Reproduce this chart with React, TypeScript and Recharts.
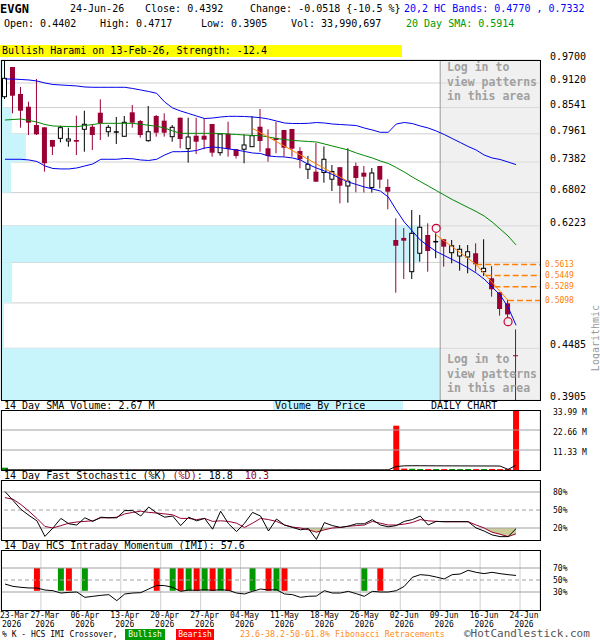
import React from "react";
import {
  ComposedChart,
  Bar,
  Line,
  Area,
  XAxis,
  YAxis,
  CartesianGrid,
  ReferenceArea,
  ReferenceLine,
  Cell,
} from "recharts";

const MONO = '"DejaVu Sans Mono", monospace';
const CANDLE_RED = "#990033";
const BAND_BLUE = "#0000ee";
const SMA_GREEN = "#008800";
const ORANGE = "#ff8000";
const VBP_BLUE = "#c8f5fc";
const GRID = "#d0d0d0";
const LEVEL = "#a0a0a0";

// daily candles, 23-Mar-2026 .. 24-Jun-2026 (65 sessions)
const opens = [
  0.8793, 0.952, 0.8857, 0.856, 0.8151, 0.8101, 0.7831, 0.7866, 0.781, 0.7831,
  0.8058, 0.8114, 0.8424, 0.8006, 0.8, 0.7909, 0.8433, 0.8239, 0.7816, 0.835,
  0.8246, 0.79, 0.8312, 0.7651, 0.7921, 0.7921, 0.8173, 0.7569, 0.7964, 0.7639,
  0.7639, 0.7692, 0.8114, 0.7659, 0.7873, 0.8043, 0.8065, 0.7604, 0.7241, 0.7194,
  0.7179, 0.705, 0.7281, 0.6924, 0.7305, 0.7175, 0.6897, 0.7305, 0.6906, 0.5992,
  0.6025, 0.5505, 0.5783, 0.6073, 0.5965, 0.6004, 0.5792, 0.5741, 0.5726, 0.5783,
  0.5505, 0.5409, 0.521, 0.5058, 0.4402,
];
const highs = [
  0.97, 0.952, 0.9024, 0.8675, 0.922, 0.8101, 0.7831, 0.8136, 0.8093, 0.8357,
  0.8469, 0.8167, 0.8732, 0.8151, 0.8328, 0.835, 0.8599, 0.8261, 0.8576, 0.8372,
  0.841, 0.8151, 0.8312, 0.8312, 0.8312, 0.8299, 0.8173, 0.7957, 0.8223, 0.7639,
  0.7951, 0.835, 0.8508, 0.8058, 0.8223, 0.8043, 0.8065, 0.768, 0.7503, 0.7768,
  0.7696, 0.7324, 0.7281, 0.7659, 0.737, 0.7305, 0.7266, 0.7305, 0.705, 0.6351,
  0.6188, 0.6493, 0.6407, 0.6266, 0.6101, 0.6004, 0.5992, 0.5912, 0.5912, 0.5939,
  0.6004, 0.559, 0.521, 0.5103, 0.4717,
];
const lows = [
  0.8739, 0.841, 0.8093, 0.7936, 0.7936, 0.7194, 0.7523, 0.7783, 0.7692, 0.7523,
  0.7589, 0.7624, 0.7831, 0.79, 0.7748, 0.79, 0.8093, 0.7879, 0.7795, 0.79,
  0.79, 0.7795, 0.7659, 0.737, 0.7543, 0.7639, 0.7489, 0.7509, 0.7489, 0.7453,
  0.7358, 0.7692, 0.7589, 0.7389, 0.7557, 0.7489, 0.7489, 0.726, 0.7055, 0.7004,
  0.6985, 0.6832, 0.661, 0.6621, 0.6808, 0.6805, 0.6801, 0.6881, 0.6505, 0.5204,
  0.5398, 0.5398, 0.5654, 0.5505, 0.5706, 0.5579, 0.563, 0.552, 0.5481, 0.5505,
  0.5442, 0.5149, 0.4894, 0.4873, 0.3905,
];
const closes = [
  0.9236, 0.8816, 0.8469, 0.8202, 0.7951, 0.7358, 0.7692, 0.8093, 0.7852, 0.7795,
  0.8167, 0.7936, 0.8188, 0.8101, 0.8, 0.821, 0.8202, 0.7936, 0.8006, 0.7985,
  0.7985, 0.8101, 0.7852, 0.7894, 0.7795, 0.7837, 0.7569, 0.7957, 0.7645, 0.7503,
  0.7727, 0.7921, 0.781, 0.7503, 0.7831, 0.7671, 0.7651, 0.7437, 0.7338, 0.7004,
  0.7437, 0.7198, 0.6929, 0.7012, 0.7074, 0.7099, 0.7169, 0.7042, 0.6819, 0.5901,
  0.5981, 0.6101, 0.62, 0.5818, 0.5965, 0.5886, 0.5901, 0.5845, 0.5807, 0.5615,
  0.5555, 0.5252, 0.4982, 0.491, 0.4392,
];

// 20,2 bands and 20 day SMA
const upperBand = [
  0.9219, 0.9219, 0.9207, 0.9195, 0.917, 0.9122, 0.9085, 0.9073, 0.9061, 0.9049,
  0.9024, 0.9017, 0.9017, 0.9017, 0.9017, 0.9017, 0.8988, 0.8952, 0.8916, 0.8873,
  0.8668, 0.8531, 0.8462, 0.8406, 0.835, 0.8294, 0.8305, 0.8328, 0.8343, 0.8343,
  0.8339, 0.8328, 0.8312, 0.8283, 0.8239, 0.8195, 0.8184, 0.8184, 0.8188, 0.8206,
  0.8195, 0.8173, 0.8162, 0.8151, 0.814, 0.8086, 0.8043, 0.7994, 0.7994, 0.8173,
  0.8206, 0.8184, 0.813, 0.8086, 0.8022, 0.7947, 0.7862, 0.7779, 0.7696, 0.7624,
  0.7523, 0.7463, 0.7433, 0.7383, 0.7332,
];
const lowerBand = [
  0.7437, 0.7437, 0.7437, 0.7423, 0.7393, 0.7305, 0.7256, 0.7247, 0.7247, 0.7266,
  0.7305, 0.7344, 0.7437, 0.7437, 0.7437, 0.7453, 0.7447, 0.7423, 0.7413, 0.7437,
  0.7523, 0.7589, 0.7589, 0.7593, 0.7614, 0.7665, 0.7686, 0.7671, 0.7645, 0.7624,
  0.7593, 0.7563, 0.7553, 0.7503, 0.7489, 0.7483, 0.7463, 0.7423, 0.7334, 0.7266,
  0.7208, 0.7141, 0.7064, 0.6998, 0.6952, 0.6906, 0.6869, 0.6832, 0.6723, 0.6493,
  0.6288, 0.6139, 0.5992, 0.5897, 0.5811, 0.5749, 0.5688, 0.5627, 0.556, 0.5486,
  0.5398, 0.5284, 0.5172, 0.5008, 0.477,
];
const sma20 = [
  0.8261, 0.8272, 0.8283, 0.825, 0.8217, 0.8162, 0.813, 0.8123, 0.8119, 0.8114,
  0.814, 0.8162, 0.8188, 0.8188, 0.8188, 0.8188, 0.8188, 0.8167, 0.8145, 0.8123,
  0.8086, 0.8022, 0.7972, 0.7972, 0.7972, 0.7972, 0.7972, 0.7968, 0.7957, 0.7947,
  0.7936, 0.7926, 0.7921, 0.7894, 0.7862, 0.7841, 0.7821, 0.781, 0.78, 0.7789,
  0.7748, 0.7706, 0.7665, 0.7624, 0.7563, 0.7512, 0.7463, 0.7403, 0.7354, 0.7275,
  0.7188, 0.7093, 0.7008, 0.6924, 0.6841, 0.6759, 0.6678, 0.6607, 0.6536, 0.6467,
  0.639, 0.6288, 0.6172, 0.6057, 0.5914,
];

// volume in millions
const volumes = [
  1.3, 0.05, 0.06, 0.05, 0.04, 0.07, 0.05, 0.06, 0.05, 0.04,
  0.05, 0.06, 0.05, 0.05, 0.04, 0.06, 0.05, 0.05, 0.07, 0.05,
  0.04, 0.05, 0.06, 0.05, 0.05, 0.04, 0.06, 0.05, 0.05, 0.06,
  0.05, 0.04, 0.05, 0.06, 0.05, 0.05, 0.04, 0.05, 0.06, 0.05,
  0.05, 0.04, 0.05, 0.06, 0.05, 0.05, 0.04, 0.05, 0.06, 25.1,
  0.8, 0.7, 0.55, 0.5, 0.55, 0.5, 0.55, 0.5, 0.55, 0.5,
  0.55, 0.6, 0.5, 0.55, 33.99,
];
const volumeSma = [
  0.1, 0.1, 0.1, 0.1, 0.1, 0.1, 0.1, 0.1, 0.1, 0.1,
  0.1, 0.1, 0.1, 0.1, 0.1, 0.1, 0.1, 0.1, 0.1, 0.1,
  0.1, 0.1, 0.1, 0.1, 0.1, 0.1, 0.1, 0.1, 0.1, 0.1,
  0.1, 0.1, 0.1, 0.1, 0.1, 0.1, 0.1, 0.1, 0.1, 0.1,
  0.1, 0.1, 0.1, 0.1, 0.1, 0.1, 0.1, 0.1, 0.1, 2.0,
  2.35, 2.4, 2.4, 2.38, 2.36, 2.35, 2.33, 2.32, 2.3, 2.3,
  2.28, 2.27, 2.25, 0.35, 2.67,
];

// 14 day fast stochastic
const stochK = [
  80.8, 66, 51, 41, 32, 6, 20, 36, 27, 25,
  37, 31, 38, 37, 37, 49, 49, 40, 55, 45,
  38, 40, 24, 38, 32, 36, 18, 48, 27, 14,
  28, 46, 40, 15, 35, 25, 21, 17, 19, 1,
  29, 24, 21, 23, 27, 27, 34, 25, 22, 24,
  31, 34, 40, 25, 31, 30.5, 30.5, 30.5, 30.5, 20,
  15, 8.5, 5.6, 5.6, 18.8,
];
const stochD = [
  70.6, 68, 59, 48, 36, 22.6, 20, 24, 28, 30,
  31, 32, 37, 37, 38, 43.5, 46, 48, 46, 45,
  43.5, 42, 36, 36, 34, 36, 31, 32, 31, 28,
  21, 28, 36, 34, 31, 25, 21.5, 20, 17, 13,
  17, 20, 21, 23, 24, 25, 31, 28, 25, 25,
  26.5, 29, 34, 32, 31, 30.5, 30.5, 30.5, 30.5, 25,
  20, 13, 9.6, 5.6, 10.3,
];

// 14 day HCS intraday momentum
const imi = [
  43.3, 39.4, 37.8, 36.7, 36.7, 33.3, 32.2, 28.3, 29.4, 30,
  21.1, 22.8, 24.4, 25.6, 15.6, 26.7, 28.3, 28.9, 35, 41.1,
  40.6, 37.8, 31.1, 33.3, 32.8, 33.9, 32.8, 33.9, 32.8, 28.3,
  26.7, 31.1, 35, 33.3, 33.9, 26.7, 25.6, 21.1, 22.8, 23.3,
  32.2, 28.3, 28.3, 31.1, 27.2, 22.8, 31.1, 30, 30, 32.2,
  39.4, 54.4, 58.9, 57.8, 55, 51.7, 58.9, 60, 66.1, 62.8,
  60.6, 62.8, 60.6, 58.9, 57.6,
];
const bullishCross = [7, 10, 21, 23, 25, 27, 31, 34, 45];
const bearishCross = [4, 8, 19, 22, 24, 26, 28, 33, 35, 47];
const CROSS_LOW = 32;
const CROSS_HIGH = 70;

// axis
const priceTicks = [0.97, 0.912, 0.8541, 0.7961, 0.7382, 0.6802, 0.6223, 0.5644, 0.5064, 0.4485, 0.3905];
const unlabeledPrices = [0.5644, 0.5064];
const tickIdx = [-0.5, 4.5, 9.5, 14.5, 19.5, 24.5, 29.5, 34.5, 39.5, 44.5, 49.5, 54.5, 59.5, 64.5];
const dateLabels = [
  "23-Mar", "27-Mar", "06-Apr", "13-Apr", "20-Apr", "27-Apr", "04-May",
  "11-May", "18-May", "26-May", "02-Jun", "09-Jun", "16-Jun", "24-Jun",
];
const YEAR = "2026";

// volume by price (millions) for each band between priceTicks, top to bottom
const volumeByPrice = [0.15, 0.15, 0.8, 1.85, 0.74, 0, 31.1, 0.82, 0.22, 32.6];
const VBP_MAX = 40;

// fibonacci retracements and pattern markers
const fibLevels = [0.5613, 0.5449, 0.5289, 0.5098];
const fibStart = [59, 60.2, 61.3, 63];
const trendA = [{ i: 31, v: 0.8078 }, { i: 43, v: 0.7004 }];
const trendB = [{ i: 54, v: 0.6073 }, { i: 59, v: 0.5613 }, { i: 63, v: 0.5098 }];
const patternMarks = [{ i: 54, v: 0.6182 }, { i: 63, v: 0.4815 }];
const LOCKED_FROM = 54.5;
const X_MAX = 67;

const pick = (list: { i: number; v: number }[], i: number) => {
  const p = list.find((q) => q.i === i);
  return p ? p.v : null;
};

const rows = opens.map((open, i) => ({
  i,
  open,
  high: highs[i],
  low: lows[i],
  close: closes[i],
  hl: [lows[i], highs[i]],
  upper: upperBand[i],
  lower: lowerBand[i],
  sma: sma20[i],
  vol: volumes[i],
  volSma: volumeSma[i],
  k: stochK[i],
  d: stochD[i],
  dFill: [Math.min(stochD[i], 20), 20],
  imi: imi[i],
  cross: bullishCross.includes(i) || bearishCross.includes(i) ? [CROSS_LOW, CROSS_HIGH] : null,
  trendA: pick(trendA, i),
  trendB: pick(trendB, i),
  mark: pick(patternMarks, i),
}));

const Candle = (props: any) => {
  const { x, y, width, height, payload } = props;
  if (!payload || height == null) return <g />;
  const { open, close, high, low } = payload;
  const top = height >= 0 ? y : y + height;
  const h = Math.abs(height);
  const lh = Math.log(high);
  const span = lh - Math.log(low) || 1;
  const toY = (v: number) => top + (h * (lh - Math.log(v))) / span;
  const cx = x + width / 2;
  const bodyTop = toY(Math.max(open, close));
  const bodyBot = toY(Math.min(open, close));
  const down = close < open;
  const flat = close === open;
  const color = down ? CANDLE_RED : "#000";
  return (
    <g>
      <line x1={cx} x2={cx} y1={top} y2={top + h} stroke={color} strokeWidth={1} />
      {flat ? (
        <rect x={x} y={bodyTop - 0.75} width={width} height={1.5} fill="#000" />
      ) : (
        <rect
          x={down ? x : x + 0.5}
          y={bodyTop}
          width={down ? width : width - 1}
          height={Math.max(bodyBot - bodyTop, 1)}
          fill={down ? CANDLE_RED : "#fff"}
          stroke={down ? "none" : "#000"}
          strokeWidth={1}
        />
      )}
    </g>
  );
};

const PriceTick = (props: any) => {
  const { x, y, payload } = props;
  if (unlabeledPrices.includes(payload.value)) return <g />;
  return (
    <text x={x} y={y - 3} fontFamily={MONO} fontSize={10} fill="#000" dominantBaseline="middle" textAnchor="start">
      {payload.value.toFixed(4)}
    </text>
  );
};

const makeSmallTick = (fmt: (v: number) => string, dy: number) => (props: any) => {
  const { x, y, payload } = props;
  return (
    <text x={x} y={y + dy} fontFamily={MONO} fontSize={8} fill="#000" dominantBaseline="middle" textAnchor="start">
      {fmt(payload.value)}
    </text>
  );
};

const DateTick = (props: any) => {
  const { x, y, payload } = props;
  const k = tickIdx.indexOf(payload.value);
  if (k < 0) return <g />;
  const first = k === 0;
  const tx = first ? 0 : x + 4;
  const anchor = first ? "start" : "middle";
  return (
    <g>
      <text x={tx} y={y + 5} textAnchor={anchor} dominantBaseline="middle" fontFamily={MONO} fontSize={8} fill="#000">
        {dateLabels[k]}
      </text>
      <text x={first ? 2 : tx} y={y + 14} textAnchor={anchor} dominantBaseline="middle" fontFamily={MONO} fontSize={8} fill="#000">
        {YEAR}
      </text>
    </g>
  );
};

const MarkDot = (props: any) => {
  const { cx, cy, value, index } = props;
  if (value == null || cy == null || isNaN(cy)) return <g key={`m-${index}`} />;
  return <circle key={`m-${index}`} cx={cx} cy={cy} r={4} fill="none" stroke="#cc0033" strokeWidth={1.2} />;
};

const Txt = ({ x, y, size = 10, color = "#000", bold = false, children }: any) => (
  <div
    style={{
      position: "absolute",
      left: x,
      top: y - size * 0.6,
      fontFamily: MONO,
      fontSize: size,
      lineHeight: `${size * 1.2}px`,
      color,
      fontWeight: bold ? "bold" : "normal",
      whiteSpace: "pre",
    }}
  >
    {children}
  </div>
);

const Frame = ({ top, height }: { top: number; height: number }) => (
  <div
    style={{
      position: "absolute",
      left: 1,
      top,
      width: 540,
      height: height + 1,
      border: "1px solid #000",
      boxSizing: "border-box",
      pointerEvents: "none",
    }}
  />
);

const xAxisBase = {
  dataKey: "i",
  type: "number" as const,
  domain: [-0.5, X_MAX],
  ticks: tickIdx,
  allowDataOverflow: true,
  interval: 0 as const,
};

const LoginNote = ({ top }: { top: number }) => (
  <div
    style={{
      position: "absolute",
      left: 447,
      top,
      fontFamily: MONO,
      fontSize: 11.5,
      fontWeight: "bold",
      lineHeight: "14.7px",
      color: "#a0a0a0",
      whiteSpace: "pre",
    }}
  >
    {"Log in to\nview patterns\nin this area"}
  </div>
);

export default function App() {
  const priceRows = priceTicks.slice(0, -1).map((hi, k) => ({ hi, lo: priceTicks[k + 1], v: volumeByPrice[k] }));
  return (
    <div style={{ position: "absolute", left: 0, top: 0, width: 600, height: 640, background: "#fff", overflow: "hidden" }}>
      {/* header */}
      <Txt x={0} y={9} size={12} bold>EVGN</Txt>
      <Txt x={70} y={9}>24-Jun-26</Txt>
      <Txt x={145} y={9}>Close: 0.4392</Txt>
      <Txt x={250} y={9}>{"Change: -0.0518 {-10.5 %}"}</Txt>
      <Txt x={404} y={9} color="#0000ff">20,2 HC Bands: 0.4770 , 0.7332</Txt>
      <Txt x={4} y={24}>Open: 0.4402</Txt>
      <Txt x={100} y={24}>High: 0.4717</Txt>
      <Txt x={201} y={24}>Low: 0.3905</Txt>
      <Txt x={291} y={24}>Vol: 33,990,697</Txt>
      <Txt x={406} y={24} color="#009900">20 Day SMA: 0.5914</Txt>
      <div style={{ position: "absolute", left: 0, top: 45, width: 402, height: 12, background: "#ffff00" }} />
      <Txt x={2} y={51}>Bullish Harami on 13-Feb-26, Strength: -12.4</Txt>

      {/* price panel */}
      <div style={{ position: "absolute", left: 0, top: 50 }}>
        <ComposedChart width={600} height={360} data={rows} margin={{ top: 10, right: 0, bottom: 10, left: 1 }}>
          <CartesianGrid stroke={GRID} />
          <XAxis {...xAxisBase} height={0} tick={false} axisLine={false} tickLine={false} />
          <XAxis xAxisId="vbp" dataKey="vol" type="number" domain={[0, VBP_MAX]} allowDataOverflow hide />
          <YAxis
            orientation="right"
            width={60}
            scale="log"
            domain={[0.3905, 0.97]}
            allowDataOverflow
            ticks={priceTicks}
            interval={0}
            axisLine={false}
            tickLine={false}
            tickSize={0}
            tickMargin={10}
            tick={<PriceTick />}
          />
          {priceRows
            .filter((r) => r.v > 0)
            .map((r, k) => (
              <ReferenceArea
                key={`vbp-${k}`}
                xAxisId="vbp"
                x1={0}
                x2={r.v}
                y1={r.lo}
                y2={r.hi}
                fill={VBP_BLUE}
                fillOpacity={1}
                stroke="none"
              />
            ))}
          <ReferenceArea x1={LOCKED_FROM} x2={X_MAX} fill="#e2e2e2" fillOpacity={0.5} stroke="none" />
          <ReferenceLine x={LOCKED_FROM} stroke="#999" />
          <Bar dataKey="hl" barSize={5} shape={(p: any) => <Candle {...p} />} isAnimationActive={false} />
          <Line dataKey="upper" stroke={BAND_BLUE} strokeWidth={1} dot={false} activeDot={false} isAnimationActive={false} />
          <Line dataKey="lower" stroke={BAND_BLUE} strokeWidth={1} dot={false} activeDot={false} isAnimationActive={false} />
          <Line dataKey="sma" stroke={SMA_GREEN} strokeWidth={1} dot={false} activeDot={false} isAnimationActive={false} />
          <Line dataKey="trendA" stroke={ORANGE} strokeWidth={1} dot={false} activeDot={false} connectNulls isAnimationActive={false} />
          <Line dataKey="trendB" stroke={ORANGE} strokeWidth={1} dot={false} activeDot={false} connectNulls isAnimationActive={false} />
          {fibLevels.map((lvl, k) => (
            <ReferenceLine
              key={`fib-${k}`}
              segment={[
                { x: fibStart[k], y: lvl },
                { x: X_MAX, y: lvl },
              ]}
              stroke={ORANGE}
              strokeWidth={1.5}
              strokeDasharray="6 3"
              label={{ value: lvl.toFixed(4), position: "right", offset: 5, fill: ORANGE, fontSize: 8, fontFamily: MONO }}
            />
          ))}
          <Line dataKey="mark" stroke="none" dot={MarkDot} activeDot={false} isAnimationActive={false} />
        </ComposedChart>
      </div>
      <LoginNote top={60} />
      <LoginNote top={352} />
      <div
        style={{
          position: "absolute",
          left: 561,
          top: 332,
          width: 70,
          height: 12,
          transform: "rotate(-90deg)",
          fontFamily: MONO,
          fontSize: 10,
          lineHeight: "12px",
          color: "#999",
          textAlign: "center",
        }}
      >
        Logarithmic
      </div>
      <Frame top={60} height={340} />

      {/* volume panel */}
      <Txt x={4} y={406}>14 Day SMA Volume: 2.67 M</Txt>
      <div style={{ position: "absolute", left: 273, top: 401, width: 130, height: 9, background: VBP_BLUE }} />
      <Txt x={275} y={406}>Volume By Price</Txt>
      <Txt x={431} y={406}>DAILY CHART</Txt>
      <div style={{ position: "absolute", left: 0, top: 400 }}>
        <ComposedChart width={600} height={80} data={rows} margin={{ top: 10, right: 0, bottom: 10, left: 1 }}>
          <CartesianGrid stroke={GRID} horizontal={false} />
          <XAxis {...xAxisBase} height={0} tick={false} axisLine={false} tickLine={false} />
          <YAxis
            orientation="right"
            width={60}
            domain={[0, 33.99]}
            allowDataOverflow
            ticks={[11.33, 22.66, 33.99]}
            interval={0}
            axisLine={false}
            tickLine={false}
            tickSize={0}
            tickMargin={13}
            tick={makeSmallTick((v) => `${v.toFixed(2)} M`, 2)}
          />
          <ReferenceLine y={11.33} stroke={LEVEL} />
          <ReferenceLine y={22.66} stroke={LEVEL} />
          <Bar dataKey="vol" barSize={6} isAnimationActive={false}>
            {rows.map((r) => (
              <Cell key={`v-${r.i}`} fill={r.close < r.open ? "#ff0000" : "#008800"} />
            ))}
          </Bar>
          <Line dataKey="volSma" stroke="#000" strokeWidth={1} dot={false} activeDot={false} isAnimationActive={false} />
        </ComposedChart>
      </div>
      <Frame top={410} height={60} />

      {/* stochastic panel */}
      <div style={{ position: "absolute", left: 4, top: 470, fontFamily: MONO, fontSize: 10, lineHeight: "12px", whiteSpace: "pre" }}>
        <span>14 Day Fast Stochastic (%K) </span>
        <span style={{ color: CANDLE_RED }}>(%D)</span>
        <span>: 18.8  </span>
        <span style={{ color: CANDLE_RED }}>10.3</span>
      </div>
      <div style={{ position: "absolute", left: 0, top: 470 }}>
        <ComposedChart width={600} height={80} data={rows} margin={{ top: 10, right: 0, bottom: 10, left: 1 }}>
          <CartesianGrid stroke={GRID} horizontal={false} />
          <XAxis {...xAxisBase} height={0} tick={false} axisLine={false} tickLine={false} />
          <YAxis
            orientation="right"
            width={60}
            domain={[0, 100]}
            allowDataOverflow
            ticks={[20, 50, 80]}
            interval={0}
            axisLine={false}
            tickLine={false}
            tickSize={0}
            tickMargin={13}
            tick={makeSmallTick((v) => `${v}%`, 0)}
          />
          <ReferenceLine y={80} stroke={LEVEL} />
          <ReferenceLine y={50} stroke={LEVEL} strokeDasharray="4 3" />
          <ReferenceLine y={20} stroke={LEVEL} />
          <Area dataKey="dFill" fill="#cccc99" fillOpacity={1} stroke="none" activeDot={false} isAnimationActive={false} />
          <Line dataKey="d" stroke={CANDLE_RED} strokeWidth={1} dot={false} activeDot={false} isAnimationActive={false} />
          <Line dataKey="k" stroke="#000" strokeWidth={1} dot={false} activeDot={false} isAnimationActive={false} />
        </ComposedChart>
      </div>
      <Frame top={480} height={60} />

      {/* IMI panel */}
      <Txt x={4} y={546}>14 Day HCS Intraday Momentum (IMI): 57.6</Txt>
      <div style={{ position: "absolute", left: 0, top: 540 }}>
        <ComposedChart width={600} height={100} data={rows} margin={{ top: 10, right: 0, bottom: 0, left: 1 }}>
          <CartesianGrid stroke={GRID} horizontal={false} />
          <XAxis
            {...xAxisBase}
            height={30}
            axisLine={false}
            tickLine={false}
            tickSize={0}
            tickMargin={0}
            tick={<DateTick />}
          />
          <YAxis
            orientation="right"
            width={60}
            domain={[0, 100]}
            allowDataOverflow
            ticks={[30, 50, 70]}
            interval={0}
            axisLine={false}
            tickLine={false}
            tickSize={0}
            tickMargin={13}
            tick={makeSmallTick((v) => `${v}%`, 0)}
          />
          <ReferenceLine y={70} stroke={LEVEL} />
          <ReferenceLine y={50} stroke={LEVEL} strokeDasharray="4 3" />
          <ReferenceLine y={30} stroke={LEVEL} />
          <Bar dataKey="cross" barSize={6} isAnimationActive={false}>
            {rows.map((r) => (
              <Cell key={`c-${r.i}`} fill={bullishCross.includes(r.i) ? "#009900" : "#ff0000"} />
            ))}
          </Bar>
          <Line dataKey="imi" stroke="#000" strokeWidth={1} dot={false} activeDot={false} isAnimationActive={false} />
        </ComposedChart>
      </div>
      <Frame top={550} height={60} />

      {/* footer */}
      <Txt x={2} y={635} size={8}>% K - HCS IMI Crossover,</Txt>
      <div style={{ position: "absolute", left: 125, top: 629, width: 40, height: 11, background: "#009900", color: "#fff", fontFamily: MONO, fontSize: 8, lineHeight: "11px", textAlign: "center" }}>
        Bullish
      </div>
      <div style={{ position: "absolute", left: 176, top: 629, width: 38, height: 11, background: "#ff0000", color: "#fff", fontFamily: MONO, fontSize: 8, lineHeight: "11px", textAlign: "center" }}>
        Bearish
      </div>
      <Txt x={240} y={635} size={8.3} color="#ff8c1a">23.6-38.2-50-61.8% Fibonacci Retracements</Txt>
      <Txt x={464} y={634} size={11} color="#555">©HotCandlestick.com</Txt>
    </div>
  );
}
